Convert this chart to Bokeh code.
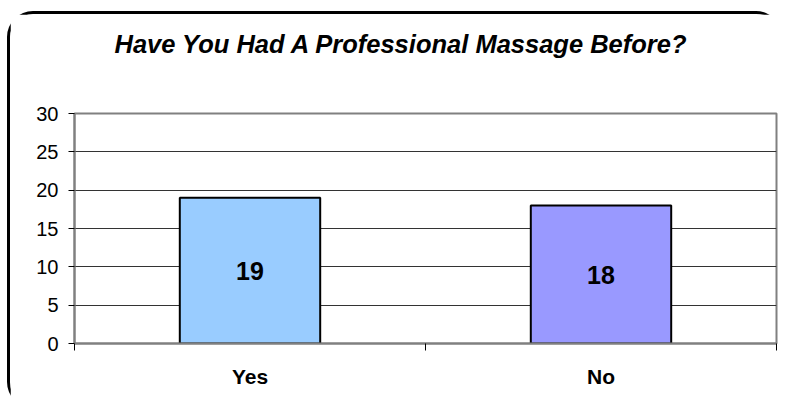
from bokeh.plotting import figure
from bokeh.models import (Range1d, ColumnDataSource, LabelSet, LinearAxis,
                          FixedTicker, CustomJSTickFormatter)
from bokeh.core.properties import value
from bokeh.embed import file_html
from bokeh.resources import INLINE

# ---- data ----
title_text = "Have You Had A Professional Massage Before?"
categories = ["Yes", "No"]
counts = [19, 18]
bar_colors = ["#99CCFF", "#9999FF"]
y_ticks = [0, 5, 10, 15, 20, 25, 30]

FONT = "Liberation Sans"

n = len(categories)
centers = [i + 0.5 for i in range(n)]
src = ColumnDataSource(dict(
    x=centers,
    count=counts,
    mid=[c / 2 for c in counts],
    label=[str(c) for c in counts],
    color=bar_colors,
))

p = figure(
    width=775, height=397,
    x_range=Range1d(0, n),
    y_range=Range1d(0, 30),
    output_backend="svg", toolbar_location=None,
    x_axis_location=None, y_axis_location="left",
    min_border_left=64, min_border_right=9, min_border_top=99, min_border_bottom=68,
    title=title_text + "\n\n",
)
p.styles = {
    "margin-top": "11px",
    "margin-left": "7px",
    "border-top": "3px solid black",
    "border-left": "3px solid black",
    "border-top-left-radius": "26px",
    "border-bottom-left-radius": "26px",
    "border-top-right-radius": "26px",
}

p.title.text_font = FONT
p.title.text_font_size = "25.5px"
p.title.text_font_style = "bold italic"
p.title.text_line_height = 1.0
p.title.align = "left"
p.title.offset = 40
p.title.standoff = 0
p.title.text_color = "black"

p.background_fill_color = "white"
p.border_fill_color = "white"
p.outline_line_color = "#808080"
p.outline_line_width = 2

# y axis
yax = p.yaxis[0]
yax.ticker = FixedTicker(ticks=y_ticks)
yax.axis_line_color = "#808080"
yax.axis_line_width = 2
yax.major_tick_out = 6
yax.major_tick_in = 0
yax.major_tick_line_color = "black"
yax.minor_tick_line_color = None
yax.major_label_text_font = FONT
yax.major_label_text_font_size = "20px"
yax.major_label_text_color = "black"
yax.major_label_standoff = 10

p.ygrid.ticker = FixedTicker(ticks=y_ticks)
p.ygrid.grid_line_color = "#333333"
p.ygrid.grid_line_width = 1
p.xgrid.grid_line_color = None

# x axes: boundary ticks + category labels
tick_axis = LinearAxis(
    ticker=FixedTicker(ticks=list(range(n + 1))),
    formatter=CustomJSTickFormatter(code="return ''"),
    axis_line_color="#808080", axis_line_width=2,
    major_tick_out=7, major_tick_in=0,
    major_tick_line_color="black",
    minor_tick_line_color=None,
    major_label_standoff=0,
    major_label_text_font_size="0px",
)
p.add_layout(tick_axis, "below")

cat_axis = LinearAxis(
    ticker=FixedTicker(ticks=centers),
    major_label_overrides={c: name for c, name in zip(centers, categories)},
    axis_line_color=None,
    major_tick_line_color=None,
    minor_tick_line_color=None,
    major_label_text_font=FONT,
    major_label_text_font_size="21px",
    major_label_text_font_style="bold",
    major_label_text_color="black",
    major_label_standoff=8,
)
p.add_layout(cat_axis, "below")

p.vbar(x="x", top="count", width=0.4, source=src,
       fill_color="color", line_color="black", line_width=2)

labels = LabelSet(x="x", y="mid", text="label", source=src,
                  text_align="center", text_baseline="middle",
                  text_font=value(FONT), text_font_size=value("25px"),
                  text_font_style="bold", text_color="black")
p.add_layout(labels)

open("out.html", "w").write(file_html(p, INLINE))
